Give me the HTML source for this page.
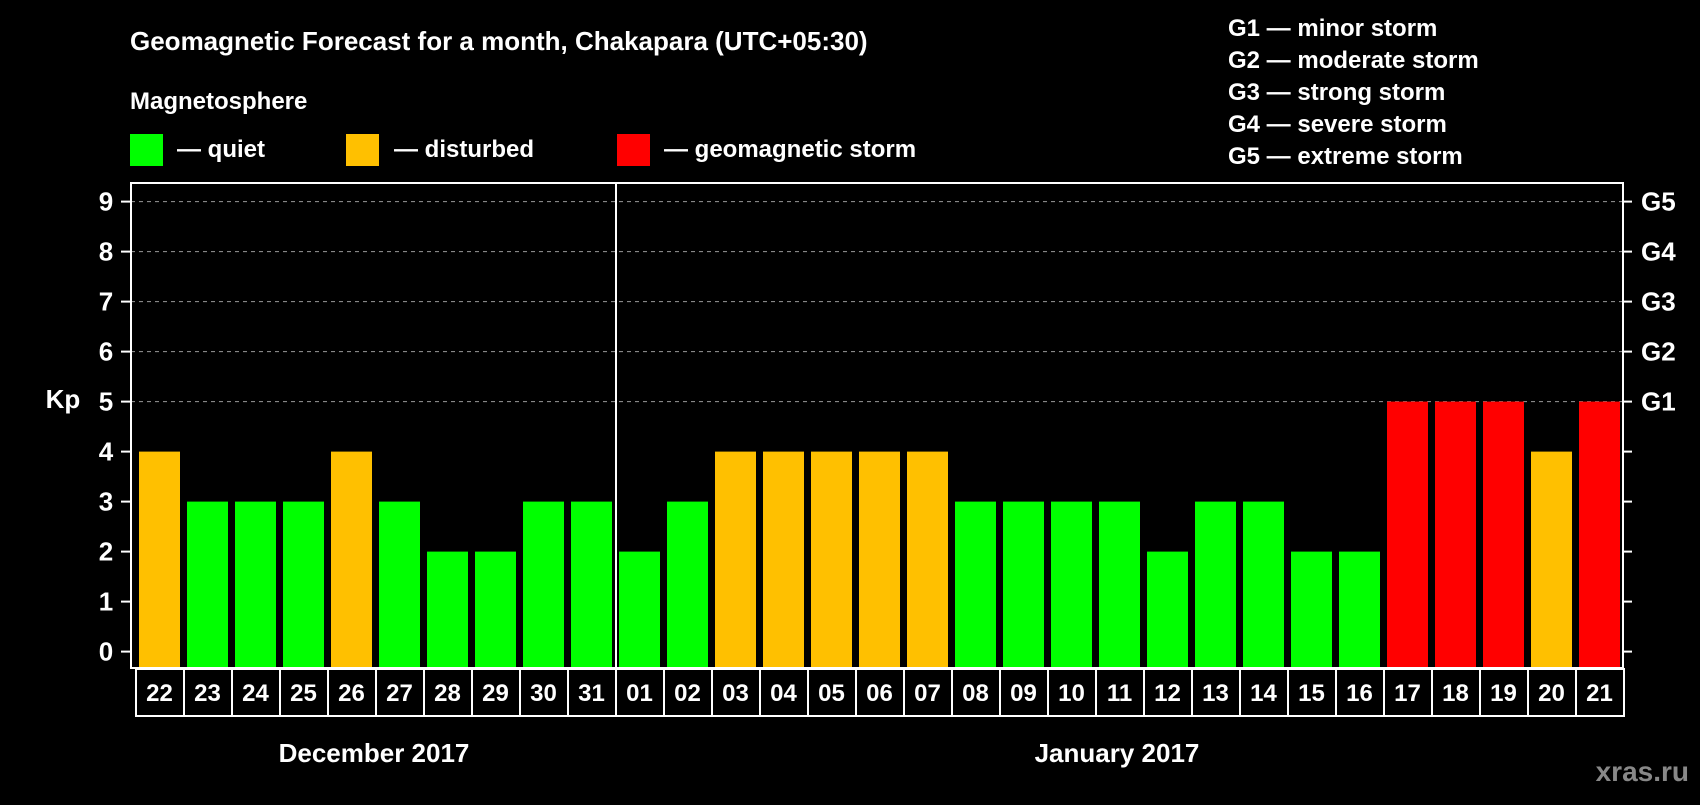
<!DOCTYPE html>
<html><head><meta charset="utf-8"><style>
html,body{margin:0;padding:0;background:#000;}
body{width:1700px;height:800px;overflow:hidden;font-family:"Liberation Sans",Arial,sans-serif;}
svg text{font-family:"Liberation Sans",Arial,sans-serif;font-weight:bold;fill:#fff;}
</style></head><body>
<svg id="chart" width="1700" height="800" xmlns="http://www.w3.org/2000/svg">
<rect width="1700" height="800" fill="#000"/>
<text x="130" y="50" font-size="26">Geomagnetic Forecast for a month, Chakapara (UTC+05:30)</text>
<text x="130" y="109" font-size="24">Magnetosphere</text>
<g><rect x="130" y="134" width="33" height="32" fill="#00ff00"/><text x="177" y="157" font-size="24">— quiet</text></g>
<g><rect x="346" y="134" width="33" height="32" fill="#ffc000"/><text x="394" y="157" font-size="24">— disturbed</text></g>
<g><rect x="617" y="134" width="33" height="32" fill="#ff0000"/><text x="664" y="157" font-size="24">— geomagnetic storm</text></g>
<g font-size="24">
<text x="1228" y="36">G1 — minor storm</text>
<text x="1228" y="68">G2 — moderate storm</text>
<text x="1228" y="100">G3 — strong storm</text>
<text x="1228" y="132">G4 — severe storm</text>
<text x="1228" y="164">G5 — extreme storm</text>
</g>
<text x="63" y="408" font-size="26" text-anchor="middle">Kp</text>
<g id="grid"></g><g id="bars"></g><g id="axes"></g>
<text x="374" y="762" font-size="26" text-anchor="middle">December 2017</text>
<text x="1117" y="762" font-size="26" text-anchor="middle">January 2017</text>
<text x="1689" y="781" font-size="28" text-anchor="end" style="fill:#888">xras.ru</text>
</svg>
<script>
const days = ["22","23","24","25","26","27","28","29","30","31","01","02","03","04","05","06","07","08","09","10","11","12","13","14","15","16","17","18","19","20","21"];
const kpValues = [4,3,3,3,4,3,2,2,3,3,2,3,4,4,4,4,4,3,3,3,3,2,3,3,2,2,5,5,5,4,5];
const yTicks = [0,1,2,3,4,5,6,7,8,9];
const gLabels = ["G1","G2","G3","G4","G5"];
const monthBreakIndex = 10;

const NS="http://www.w3.org/2000/svg";
const L=131,R=1623,T=183,B=668;
const y0=651.6, unit=50;
const bx0=139, step=48, bw=41;
function yPos(v){return y0-v*unit;}
function xPos(i){return bx0+i*step;}
function mk(tag,attrs,parent){const e=document.createElementNS(NS,tag);for(const k in attrs)e.setAttribute(k,attrs[k]);parent.appendChild(e);return e;}
const grid=document.getElementById('grid'),bars=document.getElementById('bars'),axes=document.getElementById('axes');
yTicks.forEach(v=>{
  const y=yPos(v);
  if(v>=5){const g=mk('line',{x1:L,x2:R,y1:y,y2:y,stroke:'#999','stroke-dasharray':'4,4','stroke-width':1},grid);
  
  }
  mk('line',{x1:121,x2:L,y1:y,y2:y,stroke:'#fff','stroke-width':2},axes);
  mk('line',{x1:R,x2:R+9,y1:y,y2:y,stroke:'#fff','stroke-width':2},axes);
  const t=mk('text',{x:106,y:y+9,'font-size':26,'text-anchor':'middle'},axes);t.textContent=v;
  
  
});
gLabels.forEach((g,i)=>{
  const t=mk('text',{x:1641,y:yPos(5+i)+9,'font-size':26},axes);t.textContent=g;
  
  
});
kpValues.forEach((v,i)=>{
  const col=v>=5?'#ff0000':(v>=4?'#ffc000':'#00ff00');
  const r=mk('rect',{x:xPos(i),y:yPos(v),width:bw,height:y0-yPos(v)+16,fill:col},bars);
  
  
  const c=mk('rect',{x:xPos(i)-3,y:B+1,width:step,height:47,fill:'none',stroke:'#fff','stroke-width':2},axes);
  const t=mk('text',{x:xPos(i)+bw/2,y:B+33,'font-size':24,'text-anchor':'middle'},axes);t.textContent=days[i];
  
  
});
mk('rect',{x:L,y:T,width:R-L,height:B-T,fill:'none',stroke:'#fff','stroke-width':2},axes);
const xd=xPos(monthBreakIndex)-3;
const d=mk('line',{x1:xd,x2:xd,y1:T,y2:B,stroke:'#fff','stroke-width':2},axes);


</script>
</body></html>
